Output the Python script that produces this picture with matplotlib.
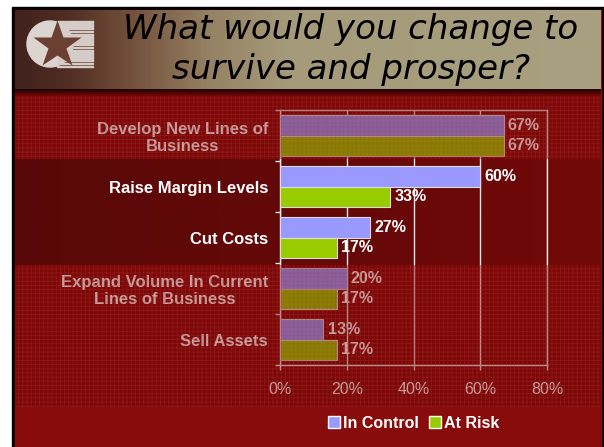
import numpy as np
import matplotlib
matplotlib.use("Agg")
import matplotlib.pyplot as plt
from matplotlib.patches import Rectangle, Circle
from matplotlib.lines import Line2D

# survey answers, percent of respondents
categories = ["Develop New Lines of\nBusiness", "Raise Margin Levels", "Cut Costs",
              "Expand Volume In Current\nLines of Business", "Sell Assets"]
in_control = [67, 60, 27, 20, 13]
at_risk = [67, 33, 17, 17, 17]
series_names = ["In Control", "At Risk"]
xticks = [0, 20, 40, 60, 80]

W, H = 604, 447
C_PURPLE = "#9999ff"
C_GREEN = "#99cc00"

plt.rcParams["hatch.linewidth"] = 0.6
fig = plt.figure(figsize=(W/100, H/100), dpi=100, facecolor="white")

# slide background, drawn in pixel units
bg = fig.add_axes([0, 0, 1, 1], zorder=0)
bg.axis("off")
bg.add_patch(Rectangle((12, 7), W-12, H-7, color="black", zorder=0.1))
bg.add_patch(Rectangle((15, 10), 586, H-10, color=(136/255, 12/255, 12/255), zorder=0.2))

# title bar gradient
xs = np.linspace(15, 601, 300)
stops_x = [15, 70, 130, 210, 290, 601]
stops_c = np.array([[66, 34, 28], [82, 46, 36], [115, 80, 60], [150, 130, 100],
                    [165, 155, 122], [168, 160, 128]]) / 255
grad = np.stack([np.interp(xs, stops_x, stops_c[:, k]) for k in range(3)], axis=-1)
bg.imshow(grad[None, :, :], extent=(15, 601, 89, 10), aspect="auto", zorder=0.5)

# shadow under the title bar
ys = np.linspace(0, 1, 20)
sh = np.stack([np.interp(ys, [0, 1], [25/255, 120/255]),
               np.full_like(ys, 5/255), np.full_like(ys, 5/255)], axis=-1)
bg.imshow(sh[:, None, :], extent=(15, 601, 96, 89), aspect="auto", zorder=0.5)

# highlighted band behind the two focused rows
xs2 = np.linspace(0, 1, 200)
band = np.stack([np.interp(xs2, [0, 1], [88/255, 114/255]),
                 np.full_like(xs2, 8/255), np.full_like(xs2, 8/255)], axis=-1)
bg.imshow(band[None, :, :], extent=(15, 601, 265, 159), aspect="auto", zorder=0.5)

# logo
bg.add_patch(Circle((50, 44), 23, color=(0.86, 0.83, 0.81), zorder=1))
for yy in np.arange(21, 67, 3.2):
    bg.add_patch(Rectangle((57, yy), 36, 1.7, color=(0.84, 0.8, 0.78), zorder=1))
bg.plot(57, 45, marker="*", ms=36, color=(0.42, 0.25, 0.2), mec="none", zorder=2)

tfont = dict(family="DejaVu Sans", style="oblique", size=24.5, color="black", ha="center")
bg.text(351, 39, "What would you change to", va="baseline", **tfont)
bg.text(351, 79, "survive and prosper?", va="baseline", **tfont)
bg.set_xlim(0, W)
bg.set_ylim(H, 0)

# bar chart
ax = fig.add_axes([280/W, 1-365/H, 267/W, 255/H], zorder=1)
ax.patch.set_alpha(0)
y = np.arange(len(categories))
h = 0.4
b1 = ax.barh(y-h/2, in_control, height=h, color=C_PURPLE, edgecolor="#dddddd", lw=0.8, zorder=3)
b2 = ax.barh(y+h/2, at_risk, height=h, color=C_GREEN, edgecolor="#dddddd", lw=0.8, zorder=3)
lab = dict(color="white", fontweight="bold", fontsize=11.5, family="Liberation Sans", padding=3)
ax.bar_label(b1, labels=[f"{v}%" for v in in_control], **lab)
ax.bar_label(b2, labels=[f"{v}%" for v in at_risk], **lab)

ax.set_xlim(0, 80)
ax.set_ylim(len(categories)-0.5, -0.5)
ax.set_xticks(xticks)
ax.set_xticklabels([f"{v}%" for v in xticks], color="white", fontsize=11.5,
                   family="Liberation Sans")
ax.set_yticks(y)
ax.set_yticklabels(categories, color="white", fontsize=12, fontweight="bold",
                   family="Liberation Sans")
for t in ax.get_yticklabels():
    t.set_multialignment("center")
ax.set_yticks(np.arange(-0.5, len(categories), 1), minor=True)
ax.tick_params(axis="y", which="major", length=0, pad=8.6)
ax.tick_params(axis="y", which="minor", length=3.6, color="#e8e8e8", width=1)
ax.tick_params(axis="x", length=3.6, color="#e8e8e8", width=1, pad=9)
ax.grid(axis="x", color="#e8e8e8", lw=1, zorder=1)
for s in ax.spines.values():
    s.set_color("#e8e8e8")
    s.set_linewidth(1)

# dithered dimming over the rows not in focus
ov = fig.add_axes([0, 0, 1, 1], zorder=2)
ov.set_xlim(0, W)
ov.set_ylim(H, 0)
ov.axis("off")
ov.patch.set_alpha(0)
for top, bot in [(96, 159), (265, 407)]:
    ov.add_patch(Rectangle((15, top), 586, bot-top, facecolor=(0.42, 0, 0, 0.36),
                           edgecolor=(0.68, 0.25, 0.25, 0.3), lw=0, hatch="++++"))

handles = [Line2D([], [], ls="none", marker="s", ms=8, mfc=c, mec="white", mew=1)
           for c in (C_PURPLE, C_GREEN)]
leg = fig.legend(handles, series_names, loc="center", bbox_to_anchor=(413/W, 1-423/H),
                 ncol=2, frameon=False, handletextpad=0.1, columnspacing=0.6,
                 handlelength=0.9, prop=dict(family="Liberation Sans", weight="bold", size=11.5))
for t in leg.get_texts():
    t.set_color("white")

fig.savefig("out.png", dpi=100)
